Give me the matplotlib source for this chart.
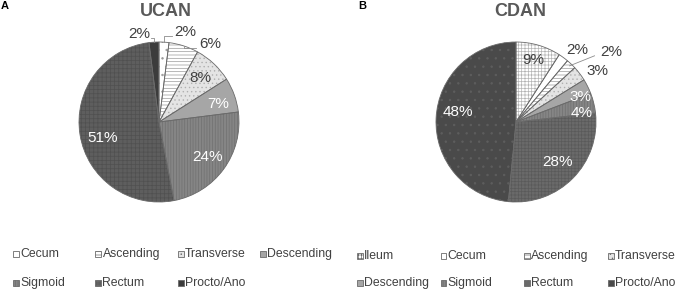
import matplotlib

matplotlib.use("Agg")

import matplotlib.pyplot as plt
import numpy as np
from matplotlib.patches import Rectangle

plt.rcParams["font.family"] = ["Liberation Sans", "DejaVu Sans"]
plt.rcParams["hatch.linewidth"] = 0.5

# data
ucan_sites = ["Cecum", "Ascending", "Transverse", "Descending", "Sigmoid", "Rectum", "Procto/Ano"]
ucan_pct = [2, 6, 8, 7, 24, 51, 2]

cdan_sites = ["Ileum", "Cecum", "Ascending", "Transverse", "Descending", "Sigmoid", "Rectum", "Procto/Ano"]
cdan_pct = [9, 2, 2, 3, 3, 4, 28, 48]

# (face, hatch, hatch colour, label colour)
ucan_look = [
    ("white", "..", "#9a9a9a", "#404040"),
    ("white", "-----", "#9a9a9a", "#404040"),
    ("#e4e4e4", "....", "#b0b0b0", "#404040"),
    ("#a6a6a6", "", "#a6a6a6", "white"),
    ("#858585", "||||||", "#707070", "white"),
    ("#5e5e5e", "++++", "#505050", "white"),
    ("#3c3c3c", "", "#3c3c3c", "#404040"),
]
cdan_look = [
    ("white", "+++++", "#b4b4b4", "#404040"),
    ("white", "", "white", "#404040"),
    ("white", "-----", "#9a9a9a", "#404040"),
    ("#e4e4e4", "....", "#b0b0b0", "#404040"),
    ("#a6a6a6", "", "#a6a6a6", "white"),
    ("#858585", "||||||", "#707070", "white"),
    ("#6a6a6a", "+++++", "#5a5a5a", "white"),
    ("#4a4a4a", "..", "#5e5e5e", "white"),
]

# label placement: (radius, angle shift in degrees, leader style)
ucan_lab = [(1.17, 13, "elbow"), (1.17, 15, "elbow"), (0.76, 0, None), (0.77, 3, None),
            (0.75, 0, None), (0.73, -7, None), (1.13, -9, "elbow")]
cdan_lab = [(0.80, -1, None), (1.18, 4, None), (1.48, 10, "straight"), (1.20, 5, None),
            (0.86, 5, None), (0.83, 6, None), (0.72, 0, None), (0.74, 7, None)]

W, H = 677, 291
fig = plt.figure(figsize=(W / 100, H / 100), dpi=100)


def draw_pie(cx, cy, r, values, look, lab):
    span = 1.25
    side = 2 * span * r
    ax = fig.add_axes([(cx - side / 2) / W, (H - cy - side / 2) / H, side / W, side / H])
    wedges, _ = ax.pie(values, startangle=90, counterclock=False)
    for w, (fc, hatch, hc, _) in zip(wedges, look):
        w.set_facecolor(fc)
        w.set_edgecolor(hc)
        w.set_hatch(hatch)
        w.set_linewidth(0)
    ax.pie(values, startangle=90, counterclock=False,
           wedgeprops=dict(fill=False, edgecolor="#6a6a6a", linewidth=0.6))
    total = sum(values)
    start = 0.0
    for v, (_, _, _, tc), (rad, shift, leader) in zip(values, look, lab):
        mid = (start + v / 2) / total * 360
        start += v
        ang = np.deg2rad(mid + shift)
        x, y = rad * np.sin(ang), rad * np.cos(ang)
        ax.text(x, y, f"{v}%", ha="center", va="center", fontsize=11, color=tc)
        m = np.deg2rad(mid)
        ex, ey = np.sin(m), np.cos(m)
        if leader == "elbow":
            ly = y - 0.05
            lx = x + 0.15 if x < 0 else x - 0.17
            ax.plot([ex, ex, lx], [ey, ly, ly], color="#8c8c8c", lw=0.6)
        elif leader == "straight":
            ax.plot([ex * 0.97, x - 0.21], [ey * 0.97, y - 0.05], color="#8c8c8c", lw=0.6)
    ax.set_xlim(-span, span)
    ax.set_ylim(-span, span)
    ax.set_axis_off()
    return ax


def draw_legend(x0, step, rows, names, look):
    sq = 6
    for i, (name, (fc, hatch, hc, _)) in enumerate(zip(names, look)):
        col, row = i % 4, i // 4
        x = x0 + col * step
        y = rows[row]
        fig.patches.append(Rectangle((x / W, (H - y - sq / 2) / H), sq / W, sq / H,
                                     transform=fig.transFigure, facecolor=fc,
                                     edgecolor="#6a6a6a", hatch=hatch, linewidth=0.6))
        fig.text((x + sq + 1.2) / W, (H - y) / H, name, ha="left", va="center",
                 fontsize=8.8, color="#404040")


draw_pie(159, 122, 80, ucan_pct, ucan_look, ucan_lab)
draw_pie(516, 122, 80, cdan_pct, cdan_look, cdan_lab)

fig.text(166 / W, 1 - 11 / H, "UCAN", ha="center", va="center", fontsize=13,
         fontweight="bold", color="#595959")
fig.text(520 / W, 1 - 11 / H, "CDAN", ha="center", va="center", fontsize=13,
         fontweight="bold", color="#595959")
fig.text(1 / W, 1 - 6 / H, "A", ha="left", va="center", fontsize=8, fontweight="bold")
fig.text(358 / W, 1 - 6 / H, "B", ha="left", va="center", fontsize=8, fontweight="bold")

draw_legend(13, 82.3, [254, 283], ucan_sites, ucan_look)
draw_legend(357, 83.5, [256, 283], cdan_sites, cdan_look)

fig.savefig("out.png", dpi=100)
